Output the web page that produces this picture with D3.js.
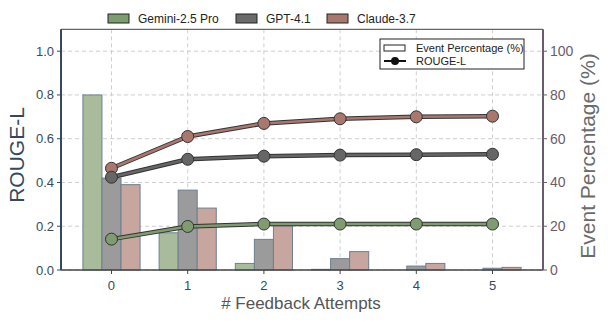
<!DOCTYPE html>
<html><head><meta charset="utf-8">
<script src="https://cdn.jsdelivr.net/npm/d3@7"></script>
<style>body{margin:0;background:#fff}svg{display:block;font-family:"Liberation Sans",Arial,sans-serif}</style>
</head><body><svg id="c" width="608" height="322"></svg>
<script>
const attempts = [0, 1, 2, 3, 4, 5];
const models = ["Gemini-2.5 Pro", "GPT-4.1", "Claude-3.7"];
const eventGemini = [80, 17, 3, 0.3, 0, 0];
const eventGPT = [42, 36.5, 14, 5.2, 1.8, 0.8];
const eventClaude = [39, 28.3, 20.2, 8.4, 3, 1.2];
const rougeGemini = [0.141, 0.199, 0.21, 0.21, 0.21, 0.21];
const rougeGPT = [0.424, 0.506, 0.52, 0.525, 0.527, 0.529];
const rougeClaude = [0.465, 0.61, 0.67, 0.691, 0.70, 0.703];
const leftTicks = [0, 0.2, 0.4, 0.6, 0.8, 1.0];
const rightTicks = [0, 20, 40, 60, 80, 100];

const barFill = ["#a8bc9c", "#9b9b9b", "#c6a69e"];
const lineCol = ["#7f9c70", "#666666", "#a8786e"];
const patchCol = ["#7f9c70", "#6b6b6b", "#a8786e"];
const eventData = [eventGemini, eventGPT, eventClaude];
const rougeData = [rougeGemini, rougeGPT, rougeClaude];

const svg = d3.select("#c");
const L = 61, R = 543, T = 29.3, B = 270;
const x = d3.scaleLinear().domain([-0.6625, 5.6625]).range([L, R]);
const yL = d3.scaleLinear().domain([0, 1.1]).range([B, T]);
const yR = d3.scaleLinear().domain([0, 110]).range([B, T]);

// grid
const g = svg.append("g");
g.selectAll(".gx").data(attempts).enter().append("line")
  .attr("x1", d => x(d)).attr("x2", d => x(d)).attr("y1", T).attr("y2", B)
  .attr("stroke", "#cfcfcf").attr("stroke-dasharray", "4,3").attr("stroke-width", 1);
g.selectAll(".gy").data(leftTicks).enter().append("line")
  .attr("x1", L).attr("x2", R).attr("y1", d => yL(d)).attr("y2", d => yL(d))
  .attr("stroke", "#cfcfcf").attr("stroke-dasharray", "4,3").attr("stroke-width", 1);

// bars
const bw = 0.25;
eventData.forEach((arr, i) => {
  svg.append("g").selectAll("rect").data(arr).enter().append("rect")
    .attr("x", (d, j) => x(attempts[j] + (i - 1) * bw - bw / 2))
    .attr("width", x(bw) - x(0))
    .attr("y", d => yR(d))
    .attr("height", d => B - yR(d))
    .attr("fill", barFill[i])
    .attr("stroke", "#6e7f90").attr("stroke-width", 1);
});

// lines
const line = d3.line().x((d, j) => x(attempts[j])).y(d => yL(d));
[2, 1, 0].forEach(i => {
  const arr = rougeData[i];
  svg.append("path").datum(arr).attr("d", line).attr("fill", "none")
    .attr("stroke", "#333").attr("stroke-width", 4.5).attr("stroke-linejoin", "round");
  svg.append("path").datum(arr).attr("d", line).attr("fill", "none")
    .attr("stroke", lineCol[i]).attr("stroke-width", 2.5).attr("stroke-linejoin", "round");
  svg.append("g").selectAll("circle").data(arr).enter().append("circle")
    .attr("cx", (d, j) => x(attempts[j])).attr("cy", d => yL(d)).attr("r", 6)
    .attr("fill", lineCol[i]).attr("stroke", "#333").attr("stroke-width", 1);
});

// spines
svg.append("line").attr("x1", L).attr("x2", R).attr("y1", T).attr("y2", T).attr("stroke", "#666").attr("stroke-width", 1.2);
svg.append("line").attr("x1", L).attr("x2", R).attr("y1", B).attr("y2", B).attr("stroke", "#444").attr("stroke-width", 1.5);
svg.append("line").attr("x1", L).attr("x2", L).attr("y1", T).attr("y2", B).attr("stroke", "#34495e").attr("stroke-width", 2);
svg.append("line").attr("x1", R).attr("x2", R).attr("y1", T).attr("y2", B).attr("stroke", "#6a5b6e").attr("stroke-width", 2);

// axes
const ax = svg.append("g");
ax.selectAll("line.lt").data(leftTicks).enter().append("line")
  .attr("x1", L - 4).attr("x2", L).attr("y1", d => yL(d)).attr("y2", d => yL(d)).attr("stroke", "#34495e").attr("stroke-width", 1);
ax.selectAll("text.lt").data(leftTicks).enter().append("text")
  .attr("x", L - 7).attr("y", d => yL(d)).attr("dy", "0.35em").attr("text-anchor", "end")
  .attr("font-size", 13).attr("fill", "#34495e").text(d => d.toFixed(1));
ax.selectAll("line.rt").data(rightTicks).enter().append("line")
  .attr("x1", R).attr("x2", R + 4).attr("y1", d => yR(d)).attr("y2", d => yR(d)).attr("stroke", "#6a5b6e").attr("stroke-width", 1);
ax.selectAll("text.rt").data(rightTicks).enter().append("text")
  .attr("x", R + 7).attr("y", d => yR(d)).attr("dy", "0.35em").attr("text-anchor", "start")
  .attr("font-size", 14).attr("fill", "#6a5b6e").text(d => d);
ax.selectAll("line.xt").data(attempts).enter().append("line")
  .attr("x1", d => x(d)).attr("x2", d => x(d)).attr("y1", B).attr("y2", B + 4).attr("stroke", "#444");
ax.selectAll("text.xt").data(attempts).enter().append("text")
  .attr("x", d => x(d)).attr("y", B + 20).attr("text-anchor", "middle")
  .attr("font-size", 13).attr("fill", "#34495e").text(d => d);

svg.append("text").attr("x", 301).attr("y", 309).attr("text-anchor", "middle")
  .attr("font-size", 17).attr("fill", "#555").text("# Feedback Attempts");
svg.append("text").attr("transform", "translate(17,155) rotate(-90)").attr("text-anchor", "middle")
  .attr("dy", "0.35em").attr("font-size", 21).attr("fill", "#34495e").text("ROUGE-L");
svg.append("text").attr("transform", "translate(588,156) rotate(-90)").attr("text-anchor", "middle")
  .attr("dy", "0.35em").attr("font-size", 21).attr("fill", "#6a6a6a").text("Event Percentage (%)");

// top legend
const legX = [108, 236, 327];
models.forEach((m, i) => {
  svg.append("rect").attr("x", legX[i]).attr("y", 14).attr("width", 21).attr("height", 9)
    .attr("fill", patchCol[i]).attr("stroke", "#222").attr("stroke-width", 1);
  svg.append("text").attr("x", legX[i] + 30).attr("y", 18.5).attr("dy", "0.35em")
    .attr("font-size", 12).attr("fill", "#222").text(m);
});

// inner legend
svg.append("rect").attr("x", 380).attr("y", 39).attr("width", 144).attr("height", 30)
  .attr("fill", "#fff").attr("stroke", "#222").attr("stroke-width", 1);
svg.append("rect").attr("x", 384).attr("y", 45).attr("width", 21).attr("height", 6)
  .attr("fill", "#fff").attr("stroke", "#222").attr("stroke-width", 1);
svg.append("text").attr("x", 416).attr("y", 48).attr("dy", "0.35em").attr("font-size", 11).attr("fill", "#222").text("Event Percentage (%)");
svg.append("line").attr("x1", 384).attr("x2", 406).attr("y1", 61).attr("y2", 61).attr("stroke", "#111").attr("stroke-width", 2);
svg.append("circle").attr("cx", 395).attr("cy", 61).attr("r", 4).attr("fill", "#111");
svg.append("text").attr("x", 416).attr("y", 61).attr("dy", "0.35em").attr("font-size", 11).attr("fill", "#222").text("ROUGE-L");
</script></body></html>
